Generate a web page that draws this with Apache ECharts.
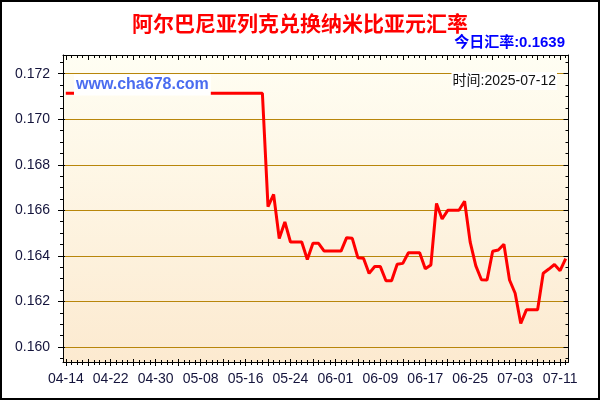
<!DOCTYPE html>
<html>
<head>
<meta charset="utf-8">
<script src="https://cdn.jsdelivr.net/npm/echarts@6/dist/echarts.min.js"></script>
<style>
html,body{margin:0;padding:0;background:#fff;}
#chart{width:600px;height:400px;}
</style>
</head>
<body>
<div id="chart"></div>
<script>
const titleText = '阿尔巴尼亚列克兑换纳米比亚元汇率';
const todayText = '今日汇率:0.1639';
const timeText = '时间:2025-07-12';
const watermark = 'www.cha678.com';

const dates = [
 '04-14','04-15','04-16','04-17','04-18','04-19','04-20','04-21','04-22','04-23','04-24','04-25','04-26','04-27','04-28','04-29','04-30',
 '05-01','05-02','05-03','05-04','05-05','05-06','05-07','05-08','05-09','05-10','05-11','05-12','05-13','05-14','05-15','05-16','05-17','05-18','05-19','05-20','05-21','05-22','05-23','05-24','05-25','05-26','05-27','05-28','05-29','05-30','05-31',
 '06-01','06-02','06-03','06-04','06-05','06-06','06-07','06-08','06-09','06-10','06-11','06-12','06-13','06-14','06-15','06-16','06-17','06-18','06-19','06-20','06-21','06-22','06-23','06-24','06-25','06-26','06-27','06-28','06-29','06-30',
 '07-01','07-02','07-03','07-04','07-05','07-06','07-07','07-08','07-09','07-10','07-11','07-12'
];

const rates = [
 0.17114,0.17114,0.17114,0.17114,0.17114,0.17114,0.17114,0.17114,0.17114,0.17114,
 0.17114,0.17114,0.17114,0.17114,0.17114,0.17114,0.17114,0.17114,0.17114,0.17114,
 0.17114,0.17114,0.17114,0.17114,0.17114,0.17114,0.17114,0.17114,0.17114,0.17114,
 0.17114,0.17114,0.17114,0.17114,0.17114,0.17114,
 0.16616,0.16670,0.16476,0.16549,0.16461,0.16461,0.16461,0.16384,0.16455,0.16455,
 0.16421,0.16421,0.16421,0.16421,0.16480,0.16477,0.16392,0.16390,0.16323,0.16353,
 0.16353,0.16291,0.16291,0.16363,0.16367,0.16414,0.16414,0.16414,0.16343,0.16360,
 0.16630,0.16562,0.16600,0.16600,0.16600,0.16640,0.16460,0.16356,0.16295,0.16294,
 0.16420,0.16426,0.16451,0.16294,0.16236,0.16103,0.16163,0.16163,0.16163,0.16324,
 0.16342,0.16362,0.16335,0.16388
];

// axis ranges
const yMin = 0.15934, yMax = 0.17282;
const minorMin = 0.1595, minorMax = 0.1725, minorStep = 0.0005;
const majorMin = 0.160, majorMax = 0.172, majorStep = 0.002;

const W = 600, H = 400;
const plotLeft = 63, plotRight = 568.5, plotTop = 55, plotBottom = 362;
function py(v){ return plotTop + (yMax - v) / (yMax - yMin) * (plotBottom - plotTop); }

const FONT = "'Liberation Sans', Arial, 'Noto Sans CJK SC', sans-serif";
const labelColor = '#14143c';
const gridRight = W - plotRight;

function catAxis(extra){
  return Object.assign({
    type:'category', gridIndex:0, data:dates, boundaryGap:true,
    axisLine:{show:false, onZero:false},
    axisTick:{show:true, alignWithLabel:true, interval:0, length:3, lineStyle:{color:'#000', width:1}},
    axisLabel:{show:false}, splitLine:{show:false}
  }, extra);
}
function valAxis(extra){
  return Object.assign({
    type:'value', axisLine:{show:false, onZero:false},
    axisTick:{show:true, length:3, lineStyle:{color:'#000', width:1}},
    axisLabel:{show:false}, splitLine:{show:false}
  }, extra);
}

const chart = echarts.init(document.getElementById('chart'), null, {renderer:'canvas'});
chart.setOption({
  animation:false,
  backgroundColor:'#fff',
  title:{
    text:titleText, left:'center', top:8,
    textStyle:{color:'#ff0000', fontSize:21, fontWeight:'bold', fontFamily:"'Noto Sans CJK SC', sans-serif"}
  },
  grid:[
    {left:plotLeft, right:gridRight, top:plotTop, bottom:H-plotBottom, show:true, borderWidth:0,
     backgroundColor:new echarts.graphic.LinearGradient(0,0,0,1,[{offset:0,color:'#fffef3'},{offset:1,color:'#fcead0'}])},
    {left:plotLeft, right:gridRight, top:py(minorMax), bottom:H-py(minorMin)},
    {left:plotLeft, right:gridRight, top:py(majorMax), bottom:H-py(majorMin)}
  ],
  xAxis:[
    catAxis({position:'bottom', axisLine:{show:true, onZero:false, lineStyle:{color:'#000', width:1}},
      axisTick:{show:true, alignWithLabel:true, interval:0, length:3, lineStyle:{color:'#000'}},
      axisLabel:{show:true, interval:7, fontSize:14, color:labelColor, margin:10, fontFamily:FONT}}),
    catAxis({position:'bottom', axisTick:{show:true, alignWithLabel:true, interval:0, inside:true, length:2, lineStyle:{color:'#000'}}}),
    catAxis({position:'bottom', axisTick:{show:true, alignWithLabel:true, interval:3, length:4, lineStyle:{color:'#000'}}}),
    catAxis({position:'bottom', axisTick:{show:true, alignWithLabel:true, interval:3, inside:true, length:3, lineStyle:{color:'#000'}}}),
    catAxis({position:'top', axisLine:{show:true, onZero:false, lineStyle:{color:'#000', width:1}},
      axisTick:{show:true, alignWithLabel:true, interval:0, inside:true, length:3, lineStyle:{color:'#000'}}}),
    catAxis({position:'top', axisTick:{show:true, alignWithLabel:true, interval:3, inside:true, length:5, lineStyle:{color:'#000'}}}),
    {type:'value', gridIndex:1, show:false},
    {type:'value', gridIndex:2, show:false}
  ],
  yAxis:[
    valAxis({gridIndex:0, position:'left', min:yMin, max:yMax, axisTick:{show:false},
      axisLine:{show:true, onZero:false, lineStyle:{color:'#000', width:1}}}),
    valAxis({gridIndex:0, position:'right', min:yMin, max:yMax, axisTick:{show:false},
      axisLine:{show:true, onZero:false, lineStyle:{color:'#000', width:1}}}),
    valAxis({gridIndex:1, position:'left', min:minorMin, max:minorMax, interval:minorStep,
      axisTick:{show:true, length:3, lineStyle:{color:'#000'}}}),
    valAxis({gridIndex:1, position:'right', min:minorMin, max:minorMax, interval:minorStep,
      axisTick:{show:true, inside:true, length:3, lineStyle:{color:'#000'}}}),
    valAxis({gridIndex:2, position:'left', min:majorMin, max:majorMax, interval:majorStep,
      axisTick:{show:true, length:5, lineStyle:{color:'#000'}},
      axisLabel:{show:true, fontSize:14, color:labelColor, margin:13, fontFamily:FONT,
        formatter:function(v){ return v.toFixed(3); }},
      splitLine:{show:true, lineStyle:{color:'#b8860b', width:1}}}),
    valAxis({gridIndex:2, position:'left', min:majorMin, max:majorMax, interval:majorStep,
      axisTick:{show:true, inside:true, length:2, lineStyle:{color:'#000'}}}),
    valAxis({gridIndex:2, position:'right', min:majorMin, max:majorMax, interval:majorStep,
      axisTick:{show:true, inside:true, length:5, lineStyle:{color:'#000'}}})
  ],
  series:[{
    type:'line', xAxisIndex:0, yAxisIndex:0, data:rates,
    showSymbol:false, symbol:'none', smooth:false,
    lineStyle:{color:'#ff0000', width:3}, z:3
  }],
  graphic:[
    {type:'text', z:100, x:565, y:43,
     style:{text:todayText, fill:'#0000ff', font:"bold 15px " + FONT, align:'right', verticalAlign:'middle', textAlign:'right', textVerticalAlign:'middle'}},
    {type:'text', z:100, x:74, y:85,
     style:{text:watermark, fill:'#4a6cf0', font:"bold 16px " + FONT, align:'left', verticalAlign:'middle', textAlign:'left', textVerticalAlign:'middle',
       backgroundColor:'#ffffff', padding:[2,2,3,2]}},
    {type:'text', z:100, x:557, y:81,
     style:{text:timeText, fill:'#111111', font:"14px " + FONT, align:'right', verticalAlign:'middle', textAlign:'right', textVerticalAlign:'middle',
       backgroundColor:'#ffffff', padding:[2,1,2,1]}},
    {type:'rect', z:100, shape:{x:1, y:1, width:598, height:398},
     style:{fill:null, stroke:'#000', lineWidth:2}}
  ]
});
</script>
</body>
</html>
